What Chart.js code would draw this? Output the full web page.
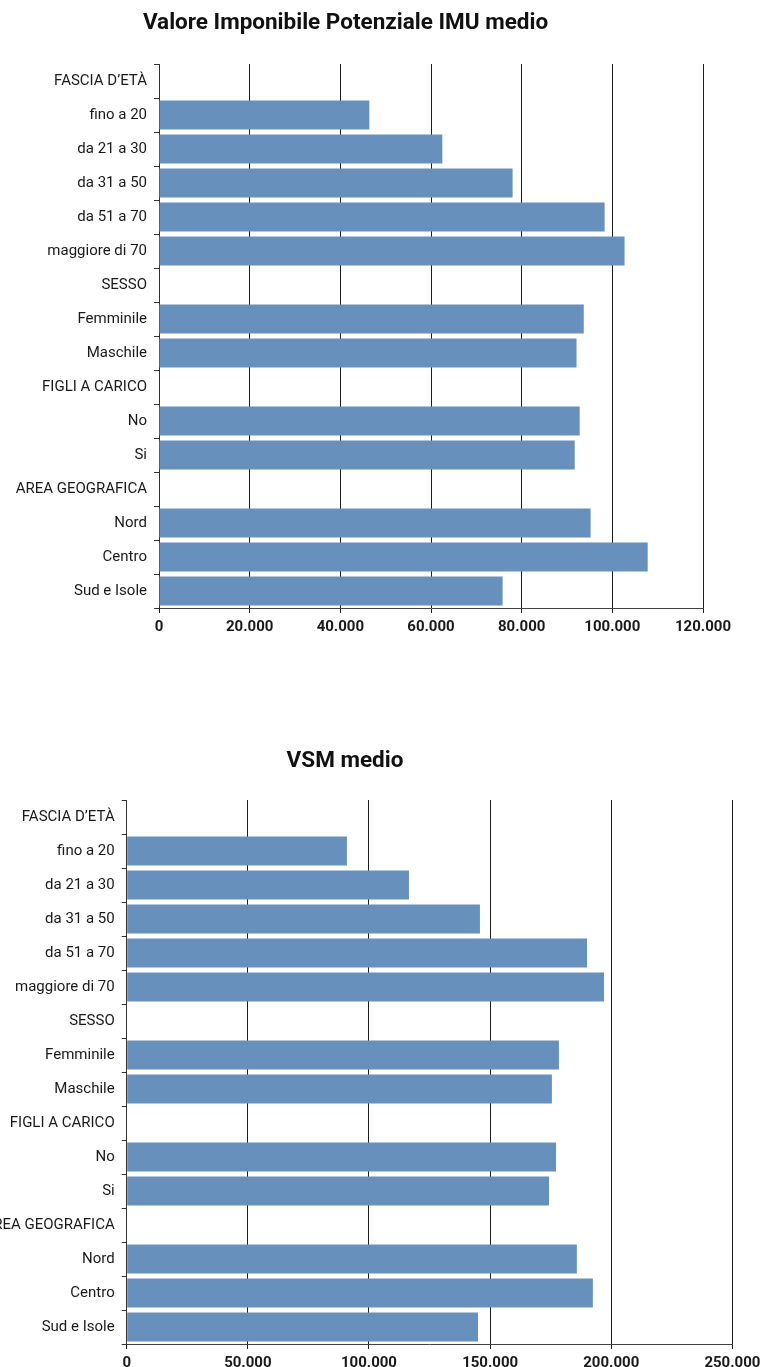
<!DOCTYPE html>
<html>
<head>
<meta charset="utf-8">
<script src="https://cdn.jsdelivr.net/npm/chart.js@4.4.1/dist/chart.umd.min.js"></script>
<style>
  html, body { margin: 0; padding: 0; background: #fff; overflow: hidden; width: 766px; height: 1367px; }
  .panel { position: absolute; left: 0; width: 766px; }
  #p1 { top: 0; height: 690px; }
  #p2 { top: 690px; height: 677px; }
</style>
</head>
<body>
<div class="panel" id="p1"><canvas id="c1" width="766" height="690"></canvas></div>
<div class="panel" id="p2"><canvas id="c2" width="766" height="677"></canvas></div>
<script>
// Row labels: group headers have no bar
const categories = [
  'FASCIA D\u2019ETÀ', 'fino a 20', 'da 21 a 30', 'da 31 a 50', 'da 51 a 70', 'maggiore di 70',
  'SESSO', 'Femminile', 'Maschile',
  'FIGLI A CARICO', 'No', 'Si',
  'AREA GEOGRAFICA', 'Nord', 'Centro', 'Sud e Isole'
];

// Valore Imponibile Potenziale IMU medio (euro)
const imuValues = [null, 46400, 62500, 78000, 98300, 102700, null, 93700, 92100, null, 92800, 91700, null, 95200, 107800, 75800];
// VSM medio (euro)
const vsmValues = [null, 90900, 116500, 145800, 190000, 197000, null, 178400, 175500, null, 177200, 174300, null, 185800, 192400, 145000];

const imuTicks = ['0', '20.000', '40.000', '60.000', '80.000', '100.000', '120.000'];
const vsmTicks = ['0', '50.000', '100.000', '150.000', '200.000', '250.000'];

const imuTitle = 'Valore Imponibile Potenziale IMU medio';
const vsmTitle = 'VSM medio';

const BAR_COLOR = '#6890bc';
const INK = '#1a1a1a';

// Draws the panel heading at a fixed centre line
const panelTitle = {
  id: 'panelTitle',
  afterDraw(chart, args, opts) {
    const ctx = chart.ctx;
    ctx.save();
    ctx.font = opts.font;
    ctx.fillStyle = opts.color;
    ctx.textAlign = 'center';
    ctx.textBaseline = 'middle';
    ctx.fillText(opts.text, opts.x, opts.y);
    ctx.restore();
  }
};

function buildChart(canvasId, values, tickLabels, step, title, cfg) {
  return new Chart(document.getElementById(canvasId), {
    type: 'bar',
    data: {
      labels: categories,
      datasets: [{
        data: values,
        backgroundColor: BAR_COLOR,
        borderWidth: 0,
        categoryPercentage: 1,
        barPercentage: 0.85
      }]
    },
    options: {
      indexAxis: 'y',
      responsive: false,
      animation: false,
      devicePixelRatio: 1,
      layout: { padding: cfg.padding },
      plugins: {
        legend: { display: false },
        tooltip: { enabled: false },
        title: { display: false },
        panelTitle: {
          text: title,
          x: cfg.titleX,
          y: cfg.titleY,
          font: 'bold 22.5px Roboto, "Liberation Sans", sans-serif',
          color: '#111'
        }
      },
      scales: {
        x: {
          min: 0,
          max: step * (tickLabels.length - 1),
          ticks: {
            stepSize: step,
            color: INK,
            padding: 5,
            maxRotation: 0,
            autoSkip: false,
            font: { family: 'Roboto', size: 15, weight: 'bold' },
            callback: (v, i) => tickLabels[i]
          },
          grid: { color: '#1c1c1c', lineWidth: 1, tickLength: 5, drawTicks: true },
          border: { display: true, color: '#444', width: 1 },
          afterFit(scale) { scale.height = cfg.xHeight; }
        },
        y: {
          ticks: {
            color: INK,
            padding: 7,
            autoSkip: false,
            font: { family: 'Roboto', size: 15 }
          },
          grid: { display: true, drawOnChartArea: false, drawTicks: true, tickLength: 5, color: '#333', offset: true },
          border: { display: true, color: '#333', width: 1 },
          afterFit(scale) { scale.width = cfg.yWidth; }
        }
      }
    },
    plugins: [panelTitle]
  });
}

buildChart('c1', imuValues, imuTicks, 20000, imuTitle, {
  padding: { top: 64, right: 63, bottom: 42, left: 0 },
  xHeight: 40,
  yWidth: 159,
  titleX: 345.5,
  titleY: 23
});

buildChart('c2', vsmValues, vsmTicks, 50000, vsmTitle, {
  padding: { top: 110, right: 33.6, bottom: 0, left: 0 },
  xHeight: 23,
  yWidth: 126.7,
  titleX: 345,
  titleY: 71
});
</script>
</body>
</html>
